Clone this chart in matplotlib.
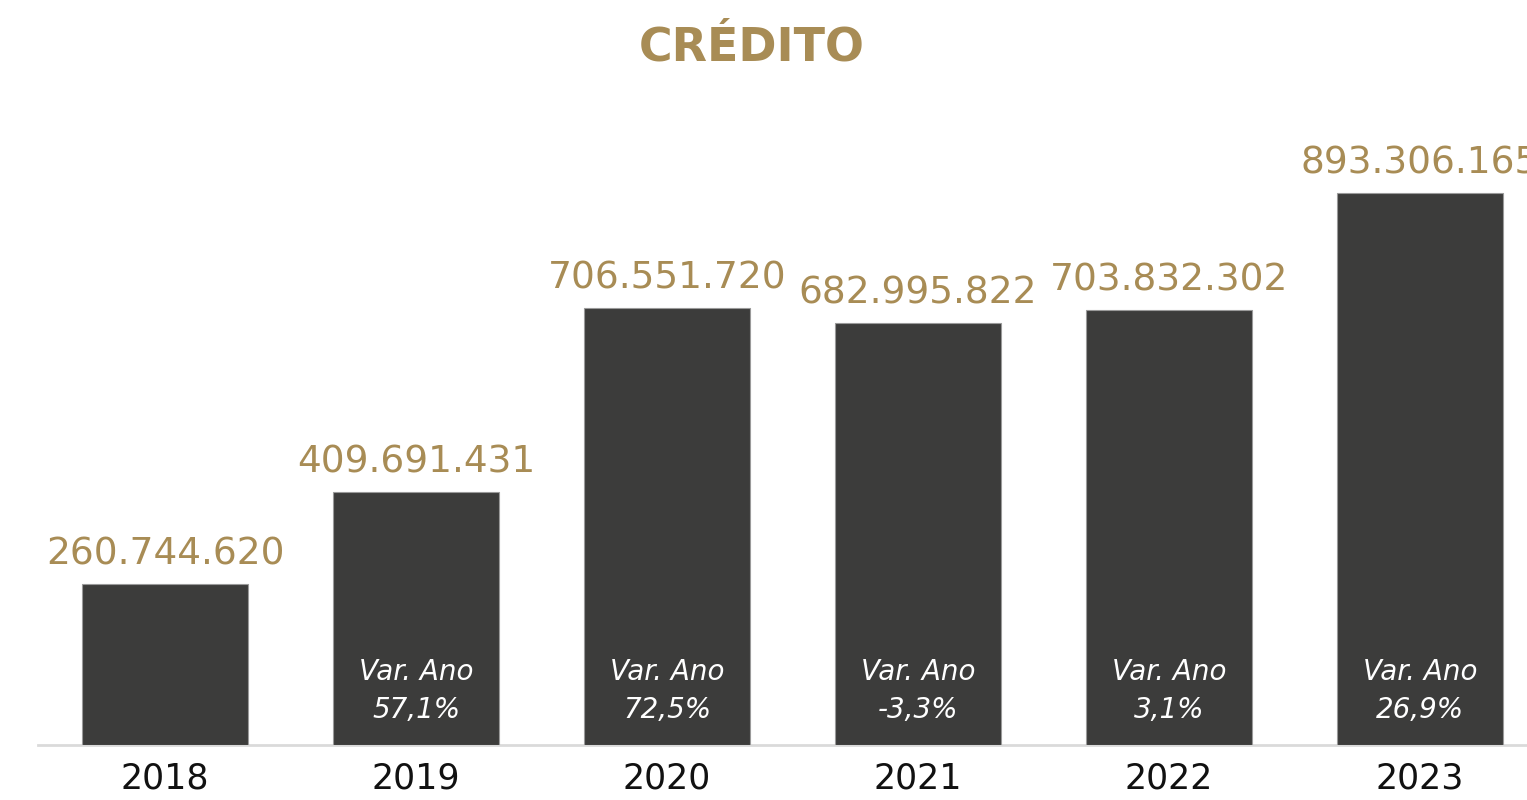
import matplotlib.pyplot as plt

anos = ['2018', '2019', '2020', '2021', '2022', '2023']
credito = [260744620, 409691431, 706551720, 682995822, 703832302, 893306165]
var_ano = [None, 57.1, 72.5, -3.3, 3.1, 26.9]

gold = '#A88C55'
dark = '#3C3C3B'


def fmt_num(v):
    return f'{v:,}'.replace(',', '.')


def fmt_pct(p):
    return f'{p:.1f}%'.replace('.', ',')


fig = plt.figure(figsize=(15.27, 8), dpi=100)
# axes placed in pixel terms: baseline at y=745, left edge at x=38
ax = fig.add_axes([38 / 1527, 55 / 800, 1 - 38 / 1527, 645 / 800])

x = list(range(len(anos)))
bars = ax.bar(x, credito, width=0.661, color=dark, edgecolor='#9a9a9a',
              linewidth=0.8, zorder=3)

ax.set_xlim(-0.506, 5.426)
ax.set_ylim(0, 1043.7e6)

for xi, v in zip(x, credito):
    ax.annotate(fmt_num(v), (xi, v), xytext=(0, 14), textcoords='offset points',
                ha='center', va='baseline', fontsize=27, color=gold)

for xi, p in zip(x, var_ano):
    if p is None:
        continue
    ax.text(xi, 0.113, 'Var. Ano', transform=ax.get_xaxis_transform(),
            ha='center', va='center', fontsize=20, style='italic',
            color='white', zorder=4)
    ax.text(xi, 0.054, fmt_pct(p), transform=ax.get_xaxis_transform(),
            ha='center', va='center', fontsize=20, style='italic',
            color='white', zorder=4)

ax.set_xticks(x)
ax.set_xticklabels(anos, fontsize=25, color='#111111')
ax.tick_params(axis='x', length=0, pad=12)
ax.set_yticks([])
for s in ['top', 'right', 'left']:
    ax.spines[s].set_visible(False)
ax.spines['bottom'].set_color('#DADADA')
ax.spines['bottom'].set_linewidth(2)

fig.text(752 / 1527, 1 - 48 / 800, 'CRÉDITO', ha='center', va='center',
         fontsize=33, fontweight='bold', color=gold)

fig.savefig('out.png', dpi=100)
